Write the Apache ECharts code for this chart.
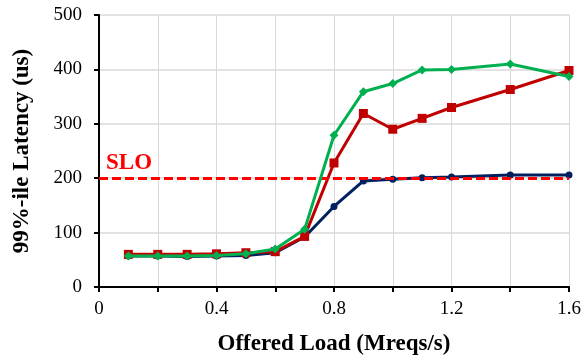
<!DOCTYPE html>
<html><head><meta charset="utf-8">
<script src="https://cdn.jsdelivr.net/npm/echarts@6/dist/echarts.min.js"></script>
<style>html,body{margin:0;padding:0;background:#fff}#c{width:585px;height:362px}</style>
</head><body><div id="c"></div>
<script>
const loads = [0.1,0.2,0.3,0.4,0.5,0.6,0.7,0.8,0.9,1.0,1.1,1.2,1.4,1.6];
const blueVals = [57,57,56,57,58,63,92,148,195,198,201,202,206,206];
const redVals = [60,60,60,61,63,65,93,228,319,290,310,330,363,398];
const greenVals = [57,57,57,58,61,70,106,279,359,374,399,400,410,387];
const xTicks = ['0','0.4','0.8','1.2','1.6'];
const sloValue = 200;

const pair = v => loads.map((x,i)=>[x,v[i]]);
const font = '"Liberation Serif","Times New Roman",serif';
const chart = echarts.init(document.getElementById('c'));
chart.setOption({
  animation:false,
  grid:{left:99,right:16,top:15,bottom:75},
  xAxis:{type:'value',min:0,max:1.6,interval:0.2,
    name:'Offered Load (Mreqs/s)',nameLocation:'middle',nameGap:46,
    nameTextStyle:{fontFamily:font,fontWeight:'bold',fontSize:23,color:'#000'},
    axisLine:{lineStyle:{color:'#000',width:2}},
    axisTick:{show:true,length:5,lineStyle:{color:'#000',width:2}},
    axisLabel:{fontFamily:font,fontSize:19,color:'#000',margin:13,
      formatter:v=>{const s=(Math.round(v*10)/10).toString();return xTicks.includes(s)?s:'';}},
    splitLine:{show:true,lineStyle:{color:'#d9d9d9',width:1}}},
  yAxis:{type:'value',min:0,max:500,interval:100,
    name:'99%-ile Latency (us)',nameLocation:'middle',nameGap:65,
    nameTextStyle:{fontFamily:font,fontWeight:'bold',fontSize:23,color:'#000'},
    axisLine:{show:true,lineStyle:{color:'#000',width:2}},
    axisTick:{show:true,length:5,lineStyle:{color:'#000',width:2}},
    axisLabel:{fontFamily:font,fontSize:19,color:'#000',margin:17},
    splitLine:{show:true,lineStyle:{color:'#d9d9d9',width:1.5}}},
  series:[
    {type:'line',data:pair(blueVals),symbol:'circle',symbolSize:7,
      lineStyle:{color:'#002060',width:3},itemStyle:{color:'#002060'},z:3},
    {type:'line',data:pair(redVals),symbol:'rect',symbolSize:9,
      lineStyle:{color:'#c00000',width:3},itemStyle:{color:'#c00000'},z:4},
    {type:'line',data:pair(greenVals),symbol:'diamond',symbolSize:9,
      lineStyle:{color:'#00b050',width:3},itemStyle:{color:'#00b050'},z:5,
      markLine:{silent:true,symbol:'none',label:{show:false},
        lineStyle:{color:'#ff0000',type:[9,4],width:3},
        data:[{yAxis:sloValue}]}}
  ],
  graphic:[{type:'text',left:106,top:152,style:{text:'SLO',font:'bold 23px '+font,fill:'#ff0000'}}]
});
</script></body></html>
